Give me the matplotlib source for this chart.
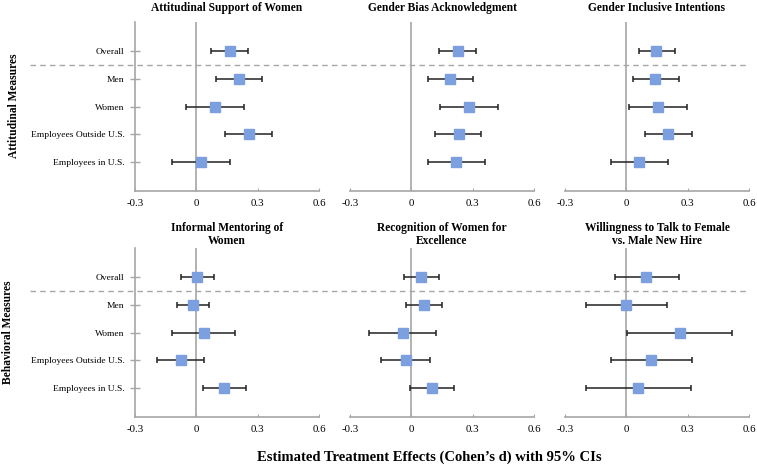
import matplotlib
matplotlib.use("Agg")
import matplotlib.pyplot as plt
from matplotlib.lines import Line2D

groups = ["Overall", "Men", "Women", "Employees Outside U.S.", "Employees in U.S."]
x_ticks = [-0.3, 0, 0.3, 0.6]
x_tick_labels = ["-0.3", "0", "0.3", "0.6"]
row_labels = ["Attitudinal Measures", "Behavioral Measures"]
titles = [
    "Attitudinal Support of Women",
    "Gender Bias Acknowledgment",
    "Gender Inclusive Intentions",
    "Informal Mentoring of\nWomen",
    "Recognition of Women for\nExcellence",
    "Willingness to Talk to Female\nvs. Male New Hire",
]

# estimates and 95% CI bounds, in the order of groups
support_est = [0.163, 0.207, 0.090, 0.258, 0.024]
support_lo = [0.073, 0.095, -0.052, 0.142, -0.117]
support_hi = [0.251, 0.323, 0.235, 0.370, 0.165]

bias_est = [0.227, 0.189, 0.281, 0.232, 0.220]
bias_lo = [0.134, 0.082, 0.139, 0.114, 0.082]
bias_hi = [0.315, 0.302, 0.424, 0.343, 0.359]

intent_est = [0.147, 0.141, 0.156, 0.206, 0.062]
intent_lo = [0.062, 0.032, 0.013, 0.091, -0.075]
intent_hi = [0.238, 0.256, 0.298, 0.319, 0.203]

mentor_est = [0.005, -0.016, 0.036, -0.077, 0.137]
mentor_lo = [-0.077, -0.093, -0.117, -0.192, 0.034]
mentor_hi = [0.086, 0.064, 0.191, 0.036, 0.243]

recog_est = [0.049, 0.064, -0.042, -0.026, 0.103]
recog_lo = [-0.038, -0.028, -0.207, -0.147, -0.005]
recog_hi = [0.135, 0.148, 0.119, 0.091, 0.210]

talk_est = [0.097, 0.000, 0.263, 0.122, 0.057]
talk_lo = [-0.057, -0.199, 0.005, -0.075, -0.199]
talk_hi = [0.256, 0.198, 0.519, 0.321, 0.316]

panels = [
    (support_est, support_lo, support_hi),
    (bias_est, bias_lo, bias_hi),
    (intent_est, intent_lo, intent_hi),
    (mentor_est, mentor_lo, mentor_hi),
    (recog_est, recog_lo, recog_hi),
    (talk_est, talk_lo, talk_hi),
]

plt.rcParams["font.family"] = ["Liberation Serif", "DejaVu Serif"]

W, H = 757, 466
fig = plt.figure(figsize=(W / 100, H / 100), dpi=100)

grey = "#a6a6a6"
blue = "#7b9fdf"
lefts = [135, 350, 565]
tops = [22, 248]
ax_w, ax_h = 184, 168.5

ypos = [4, 3, 2, 1, 0]

axes = []
for i, (est, lo, hi) in enumerate(panels):
    r, c = divmod(i, 3)
    ax = fig.add_axes([lefts[c] / W, 1 - (tops[r] + ax_h) / H, ax_w / W, ax_h / H])
    axes.append(ax)
    xerr = [[e - l for e, l in zip(est, lo)], [h - e for e, h in zip(est, hi)]]
    ax.axvline(0, color=grey, lw=1.2, zorder=1)
    ax.errorbar(est, ypos, xerr=xerr, fmt="none", ecolor="#222222",
                elinewidth=1.1, capsize=2, capthick=1.1, zorder=2)
    ax.plot(est, ypos, "s", color=blue, markersize=7, zorder=3)
    ax.set_xlim(-0.3, 0.6)
    ax.set_ylim(-1.03, 5.05)
    ax.set_xticks(x_ticks)
    ax.set_xticklabels(x_tick_labels)
    ax.tick_params(axis="x", direction="in", length=2.5, color=grey,
                   labelsize=7.8, pad=6)
    for s in ["top", "right"]:
        ax.spines[s].set_visible(False)
    ax.spines["bottom"].set_color(grey)
    ax.spines["bottom"].set_linewidth(1.2)
    if c == 0:
        ax.spines["left"].set_color(grey)
        ax.spines["left"].set_linewidth(1.2)
        ax.set_yticks(ypos)
        ax.set_yticklabels(groups)
        ax.tick_params(axis="y", direction="inout", length=7, color=grey,
                       width=1.0, labelsize=6.8, pad=4)
    else:
        ax.spines["left"].set_visible(False)
        ax.set_yticks([])
    ax.set_title(titles[i], fontsize=8.3, fontweight="bold", pad=8 if r == 0 else 3,
                 linespacing=1.1)

fig.canvas.draw()

# dashed separator between Overall and the subgroups
for r in range(2):
    ax = axes[r * 3]
    y_disp = ax.transData.transform((0, 3.5))[1]
    y_fig = fig.transFigure.inverted().transform((0, y_disp))[1]
    fig.add_artist(Line2D([30 / W, 748 / W], [y_fig, y_fig], transform=fig.transFigure,
                          color=grey, lw=1.0, ls=(0, (4, 3))))

fig.text(14 / W, 1 - 106 / H, row_labels[0], rotation=90, ha="center", va="center",
         fontsize=8.3, fontweight="bold")
fig.text(8 / W, 1 - 332 / H, row_labels[1], rotation=90, ha="center", va="center",
         fontsize=8.3, fontweight="bold")
fig.text(429 / W, 1 - 457 / H, "Estimated Treatment Effects (Cohen\u2019s d) with 95% CIs",
         ha="center", va="center", fontsize=10.5, fontweight="bold")

fig.savefig("out.png", dpi=100)
